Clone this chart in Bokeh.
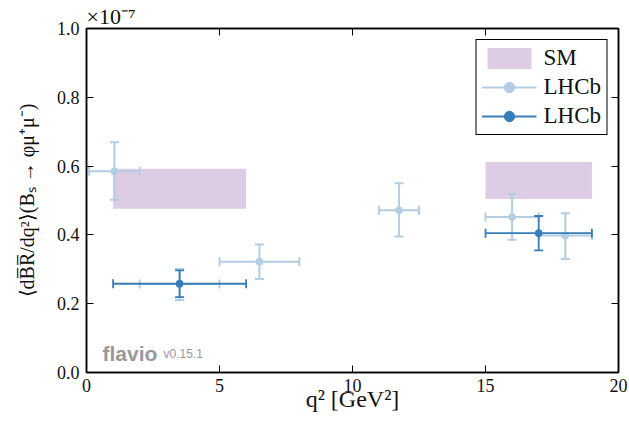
import numpy as np
from bokeh.plotting import figure
from bokeh.models import (LinearAxis, Label, Legend, LegendItem, ColumnDataSource,
                          Range1d, FixedTicker, PrintfTickFormatter)
from bokeh.embed import file_html
from bokeh.resources import INLINE

# ---- data (branching ratio in units of 1e-7) ----
x_ticks = [0, 5, 10, 15, 20]
y_ticks = [0.0, 0.2, 0.4, 0.6, 0.8, 1.0]

sm_xlo = [1.0, 15.0]
sm_xhi = [6.0, 19.0]
sm_ylo = [0.476, 0.504]
sm_yhi = [0.592, 0.612]

light_x = [1.05, 3.5, 6.5, 11.75, 16.0, 18.0]
light_xlo = [0.1, 2.0, 5.0, 11.0, 15.0, 17.0]
light_xhi = [2.0, 5.0, 8.0, 12.5, 17.0, 19.0]
light_y = [0.585, 0.257, 0.322, 0.472, 0.452, 0.398]
light_ylo = [0.502, 0.211, 0.272, 0.395, 0.386, 0.330]
light_yhi = [0.669, 0.301, 0.372, 0.550, 0.519, 0.463]

dark_x = [3.5, 17.0]
dark_xlo = [1.0, 15.0]
dark_xhi = [6.0, 19.0]
dark_y = [0.258, 0.405]
dark_ylo = [0.219, 0.355]
dark_yhi = [0.297, 0.455]

SERIF = "Liberation Serif"
SM_COLOR = "#decbe4"
LIGHT = "#b3cde3"
DARK = "#377eb8"

p = figure(width=629, height=432, x_range=Range1d(0, 20), y_range=Range1d(0, 1.0),
           output_backend="svg", toolbar_location=None,
           min_border_left=86, min_border_right=11, min_border_top=28, min_border_bottom=60)
p.grid.visible = False
p.outline_line_color = "black"
p.outline_line_width = 1.5
p.background_fill_color = "white"
p.border_fill_color = "white"

p.title.text = "×10⁻⁷"
p.title.align = "left"
p.title.offset = 0
p.title.standoff = 0
p.title.text_font = SERIF
p.title.text_font_style = "normal"
p.title.text_font_size = "22px"
p.title.text_color = "#111111"

bottom_axis = p.below[0]
left_axis = p.left[0]
top_axis = LinearAxis()
right_axis = LinearAxis()
p.add_layout(top_axis, "above")
p.add_layout(right_axis, "right")

for ax in [bottom_axis, top_axis]:
    ax.ticker = FixedTicker(ticks=x_ticks)
for ax in [left_axis, right_axis]:
    ax.ticker = FixedTicker(ticks=y_ticks)
left_axis.formatter = PrintfTickFormatter(format="%.1f")

for ax in [bottom_axis, left_axis, top_axis, right_axis]:
    ax.major_tick_in = 7
    ax.major_tick_out = 0
    ax.minor_tick_line_color = None
    ax.major_tick_line_color = "black"
    ax.major_tick_line_width = 1
    ax.axis_line_color = "black"
    ax.axis_line_width = 1.5
    ax.major_label_text_font = SERIF
    ax.major_label_text_font_size = "18px"
    ax.major_label_text_color = "#111111"

top_axis.major_label_overrides = {t: "" for t in x_ticks}
right_axis.major_label_overrides = {t: "" for t in y_ticks}
top_axis.major_label_standoff = 0
right_axis.major_label_standoff = 0

bottom_axis.major_label_standoff = 6
left_axis.major_label_standoff = 7

bottom_axis.axis_label = "q² [GeV²]"
bottom_axis.axis_label_text_font = SERIF
bottom_axis.axis_label_text_font_style = "normal"
bottom_axis.axis_label_text_font_size = "24px"
bottom_axis.axis_label_standoff = -9
bottom_axis.axis_label_text_color = "#111111"

left_axis.axis_label = "⟨dB̅R̅/dq²⟩(Bₛ → φμ⁺μ⁻)"
left_axis.axis_label_text_font = SERIF
left_axis.axis_label_text_font_style = "normal"
left_axis.axis_label_text_font_size = "20px"
left_axis.axis_label_standoff = 16
left_axis.axis_label_text_color = "#111111"

# ---- SM boxes ----
sm_src = ColumnDataSource(dict(left=sm_xlo, right=sm_xhi, bottom=sm_ylo, top=sm_yhi))
sm_r = p.quad(left="left", right="right", bottom="bottom", top="top", source=sm_src,
              fill_color=SM_COLOR, line_color=None)


def errorbars(xc, xlo, xhi, yc, ylo, yhi, color, lw, cap):
    src = ColumnDataSource(dict(x=xc, xlo=xlo, xhi=xhi, y=yc, ylo=ylo, yhi=yhi))
    h = p.segment(x0="xlo", x1="xhi", y0="y", y1="y", source=src, line_color=color, line_width=lw)
    p.segment(x0="x", x1="x", y0="ylo", y1="yhi", source=src, line_color=color, line_width=lw)
    for col in ["xlo", "xhi"]:
        p.scatter(x=col, y="y", source=src, marker="dash", angle=np.pi / 2, size=cap,
                  line_color=color, line_width=lw)
    for col in ["ylo", "yhi"]:
        p.scatter(x="x", y=col, source=src, marker="dash", size=cap,
                  line_color=color, line_width=lw)
    pt = p.scatter(x="x", y="y", source=src, marker="circle", size=7,
                   fill_color=color, line_color=color)
    return [h, pt]


light_rs = errorbars(light_x, light_xlo, light_xhi, light_y, light_ylo, light_yhi, LIGHT, 2, 9)
dark_rs = errorbars(dark_x, dark_xlo, dark_xhi, dark_y, dark_ylo, dark_yhi, DARK, 1.8, 9)

legend = Legend(items=[LegendItem(label="SM", renderers=[sm_r]),
                       LegendItem(label="LHCb", renderers=light_rs),
                       LegendItem(label="LHCb", renderers=dark_rs)],
                location="top_right")
legend.margin = 11
legend.padding = 5
legend.spacing = 3
legend.glyph_width = 55
legend.glyph_height = 26
legend.label_height = 26
legend.label_standoff = 7
legend.label_text_font = SERIF
legend.label_text_font_size = "23px"
legend.label_text_color = "#111111"
legend.border_line_color = "black"
legend.border_line_width = 1.5
legend.border_line_alpha = 1
legend.background_fill_color = "white"
legend.background_fill_alpha = 1
p.add_layout(legend)

p.add_layout(Label(x=16, y=19, x_units="screen", y_units="screen", text="flavio",
                   text_font="Liberation Sans", text_font_style="bold", text_font_size="21px",
                   text_color="#999999", text_baseline="alphabetic"))
p.add_layout(Label(x=77, y=19, x_units="screen", y_units="screen", text="v0.15.1",
                   text_font="Liberation Sans", text_font_size="12px",
                   text_color="#999999", text_baseline="alphabetic"))

open("out.html", "w").write(file_html(p, INLINE))
